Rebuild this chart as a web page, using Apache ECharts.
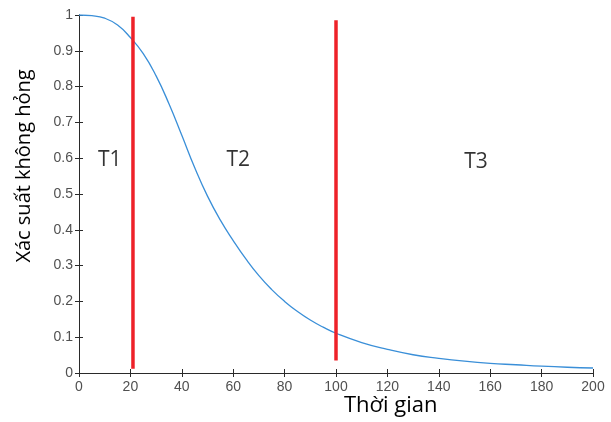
<!DOCTYPE html>
<html>
<head>
<meta charset="utf-8">
<script src="https://cdn.jsdelivr.net/npm/echarts@6/dist/echarts.min.js"></script>
<style>
html,body{margin:0;padding:0;background:#fff;}
#c{width:611px;height:422px;}
</style>
</head>
<body>
<div id="c"></div>
<script>
// Time values (x) and survival probability (y)
var times = [0, 5, 10, 15, 20, 25, 30, 35, 40, 45, 50, 55, 60, 65, 70, 75, 80, 85, 90, 95, 100, 110, 120, 130, 140, 150, 160, 170, 180, 190, 200];
var reliability = [1.0, 0.998, 0.991, 0.972, 0.937, 0.892, 0.83, 0.752, 0.664, 0.574, 0.494, 0.427, 0.37, 0.318, 0.272, 0.233, 0.2, 0.172, 0.148, 0.128, 0.111, 0.085, 0.066, 0.051, 0.041, 0.033, 0.027, 0.023, 0.019, 0.016, 0.014];
// Red boundary lines
var boundaryX = [21, 100];
var boundaryLow = [0.012, 0.035];
var boundaryHigh = [0.995, 0.985];
// Region labels
var regionNames = ['T1', 'T2', 'T3'];
var regionX = [12, 62, 154.5];
var regionY = [0.595, 0.595, 0.59];
var xTicks = [0, 20, 40, 60, 80, 100, 120, 140, 160, 180, 200];
var yTicks = [0, 0.1, 0.2, 0.3, 0.4, 0.5, 0.6, 0.7, 0.8, 0.9, 1];

var chart = echarts.init(document.getElementById('c'), null, {renderer: 'canvas'});

var curve = times.map(function (t, i) { return [t, reliability[i]]; });
var series = [{
  type: 'line', data: curve, smooth: 0.5, showSymbol: false, symbol: 'none',
  lineStyle: {color: '#3a8fd8', width: 1.3}, z: 3, silent: true
}];
boundaryX.forEach(function (bx, i) {
  series.push({
    type: 'line', data: [[bx, boundaryLow[i]], [bx, boundaryHigh[i]]],
    showSymbol: false, symbol: 'none',
    lineStyle: {color: '#ee2229', width: 3.5}, z: 4, silent: true
  });
});
series.push({
  type: 'scatter', symbolSize: 0, silent: true,
  data: regionNames.map(function (n, i) { return {name: n, value: [regionX[i], regionY[i]]}; }),
  label: {show: true, position: 'inside', formatter: '{b}', color: '#000', fontSize: 21, fontFamily: 'Open Sans'}
});

var axisLine = {show: true, lineStyle: {color: '#2a2a2a', width: 1}};
var tickStyle = {show: true, inside: true, length: 4, lineStyle: {color: '#2a2a2a', width: 1}};
var lblStyle = {color: '#505050', fontSize: 14, fontFamily: 'Liberation Sans'};

chart.setOption({
  animation: false,
  backgroundColor: '#fff',
  grid: {left: 79, right: 18, top: 15, bottom: 49, containLabel: false},
  xAxis: [{
    type: 'value', min: 0, max: 200, interval: 20, position: 'bottom',
    axisLine: axisLine, axisTick: tickStyle, splitLine: {show: false},
    axisLabel: Object.assign({margin: 7, formatter: function (v) { return xTicks.indexOf(v) >= 0 ? String(v) : ''; }}, lblStyle)
  }, {
    type: 'value', min: 0, max: 200, interval: 20, position: 'top',
    axisLine: axisLine, axisTick: tickStyle, splitLine: {show: false}, axisLabel: {show: false}
  }],
  yAxis: [{
    type: 'value', min: 0, max: 1, interval: 0.1, position: 'left',
    axisLine: axisLine, axisTick: tickStyle, splitLine: {show: false},
    axisLabel: Object.assign({margin: 6, formatter: function (v) {
      var r = Math.round(v * 10) / 10;
      return (r === 0 || r === 1) ? String(r) : r.toFixed(1);
    }}, lblStyle)
  }, {
    type: 'value', min: 0, max: 1, interval: 0.1, position: 'right',
    axisLine: axisLine, axisTick: tickStyle, splitLine: {show: false}, axisLabel: {show: false}
  }],
  series: series,
  graphic: [{
    type: 'text', left: 344, top: 395,
    style: {text: 'Thời gian', fontSize: 22, fontFamily: 'Open Sans', fill: '#000'}
  }, {
    type: 'text', x: 14, y: 166, rotation: Math.PI / 2,
    style: {text: 'Xác suất không hỏng', fontSize: 20, fontFamily: 'Open Sans', fill: '#000', align: 'center', verticalAlign: 'top'}
  }]
});
</script>
</body>
</html>
